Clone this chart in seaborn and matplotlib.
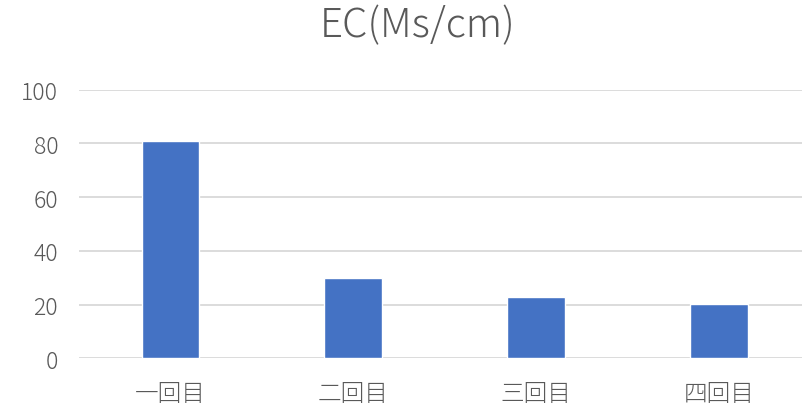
import matplotlib
matplotlib.use("Agg")
import matplotlib.pyplot as plt
import seaborn as sns
import pandas as pd

categories = ["一回目", "二回目", "三回目", "四回目"]
ec_values = [80.8, 29.8, 22.7, 20.1]
y_ticks = [0, 20, 40, 60, 80, 100]
title_text = "EC(Ms/cm)"

sns.set_theme(style="white")
plt.rcParams["font.family"] = ["Noto Sans CJK JP", "DejaVu Sans"]
plt.rcParams["font.weight"] = "light"

df = pd.DataFrame({"回": categories, "EC": ec_values})

fig = plt.figure(figsize=(8.03, 4.10), dpi=100)
ax = fig.add_axes([79 / 803, 1 - 359.3 / 410, 1 - 79 / 803, (359.3 - 90.7) / 410])

sns.barplot(data=df, x="回", y="EC", color="#4472C4", width=0.315,
            saturation=1, ax=ax, zorder=3)

ax.set_ylim(0, 100)
ax.set_xlim(-0.5, 3.46)
ax.set_yticks(y_ticks)
ax.set_yticklabels([str(t) for t in y_ticks])
ax.yaxis.grid(True, color="#D9D9D9", linewidth=1.3, zorder=0)
ax.xaxis.grid(False)
for side in ["top", "right", "left", "bottom"]:
    ax.spines[side].set_visible(False)
ax.tick_params(axis="y", length=0, pad=15, labelsize=16.5, labelcolor="#595959")
ax.tick_params(axis="x", length=0, pad=16, labelsize=17, labelcolor="#595959")
for lbl in ax.get_xticklabels() + ax.get_yticklabels():
    lbl.set_fontweight("light")
ax.set_xlabel("")
ax.set_ylabel("")

fig.text(0.5206, 1 - 26 / 410, title_text, ha="center", va="center",
         fontsize=29, color="#595959", fontweight="light")

fig.savefig("out.png", dpi=100)
